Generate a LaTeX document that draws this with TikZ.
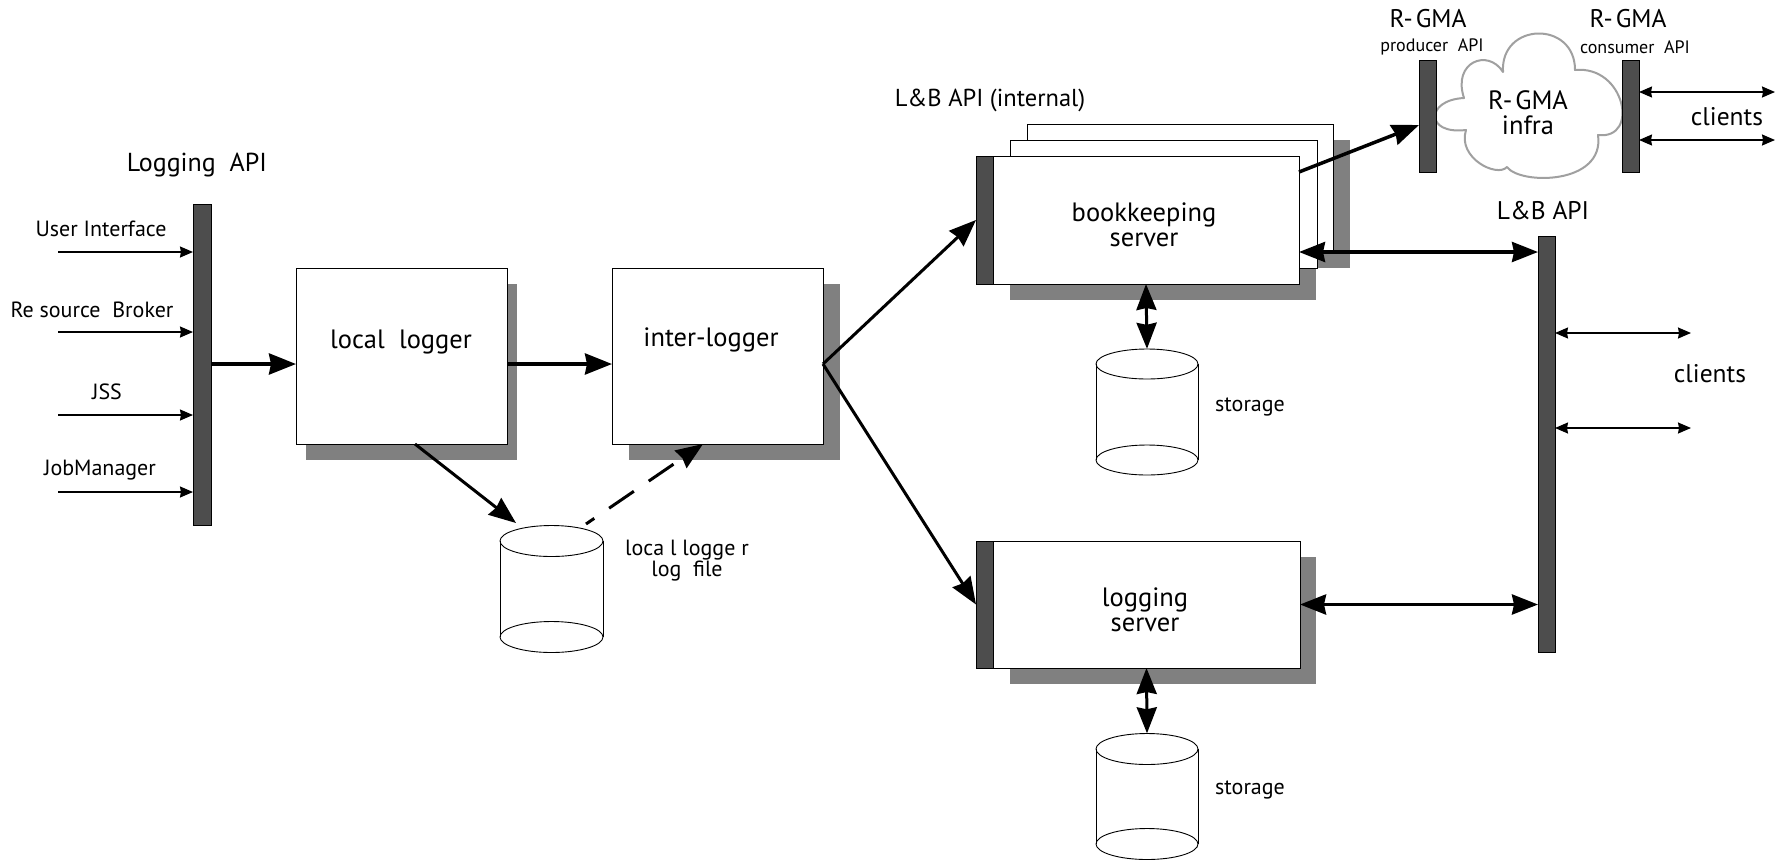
\documentclass[tikz,border=0pt]{standalone}
\usepackage{fontspec}
\setmainfont{PT Sans}
\usetikzlibrary{arrows.meta}
\definecolor{barc}{HTML}{4D4D4D}
\definecolor{shadc}{HTML}{808080}
\definecolor{cloudc}{HTML}{A0A0A0}
\tikzset{
  apibar/.style={draw=black, line width=0.8pt, fill=barc, inner sep=0pt, outer sep=0pt, anchor=north west},
  srvbox/.style={draw=black, line width=1pt, fill=white, inner sep=0pt, outer sep=0pt, anchor=north west},
  shad/.style={fill=shadc},
  cylline/.style={draw=black, line width=0.9pt},
  biglbl/.style={font=\fontsize{26.5}{25}\selectfont, align=center, inner sep=0pt},
  midlbl/.style={font=\fontsize{22}{22}\selectfont, align=center, inner sep=0pt},
  smalllbl/.style={font=\fontsize{22}{21}\selectfont, align=center, inner sep=0pt},
  tinylbl/.style={font=\fontsize{18}{18}\selectfont, align=center, inner sep=0pt},
  bigarrow/.style={line width=3.5pt, -{Stealth[inset=2pt,length=27pt,width=21pt]}},
  bigdbl/.style={line width=3.5pt, {Stealth[inset=2pt,length=26pt,width=20pt]}-{Stealth[inset=2pt,length=26pt,width=20pt]}},
  thinarrow/.style={line width=1.5pt, -{Stealth[inset=1pt,length=13pt,width=11pt]}},
  thindbl/.style={line width=1.5pt, {Stealth[inset=1pt,length=13pt,width=11pt]}-{Stealth[inset=1pt,length=13pt,width=11pt]}},
}
\newcommand{\rgma}{R-\kern3pt GMA}
\begin{document}
\begin{tikzpicture}[x=1pt,y=-1pt]
\useasboundingbox (0,0) rectangle (1779,860);
\fill[white] (0,0) rectangle (1779,860);

% ---------- Logging API ----------
\node[apibar, minimum width=18pt, minimum height=321pt] (lapi) at (193,204) {};
\node[biglbl, font=\fontsize{26}{26}\selectfont] (lapilbl) at (197,165) {Logging\ \ API};
\node[smalllbl] (uilbl) at (101,229) {User Interface};
\node[smalllbl] (rblbl) at (92,310) {Re source\ \ Broker};
\node[smalllbl] (jsslbl) at (107,392) {JSS};
\node[smalllbl] (jmlbl) at (100,470) {JobManager};
\coordinate (ui) at (58,252);
\coordinate (rb) at (58,332);
\coordinate (jss) at (58,415);
\coordinate (jm) at (58,492);
\draw[thinarrow] (ui) -- (ui -| lapi.west);
\draw[thinarrow] (rb) -- (rb -| lapi.west);
\draw[thinarrow] (jss) -- (jss -| lapi.west);
\draw[thinarrow] (jm) -- (jm -| lapi.west);

% ---------- local logger / inter-logger ----------
\fill[shad] (306,284) rectangle (517,460);
\node[srvbox, minimum width=211pt, minimum height=176pt] (ll) at (296,268) {};
\node[biglbl] (lllbl) at (401,342) {local\ \ logger};
\fill[shad] (629,284) rectangle (840,460);
\node[srvbox, minimum width=211pt, minimum height=176pt] (il) at (612,268) {};
\node[biglbl] (illbl) at (711,340) {inter-logger};

\draw[bigarrow] (lapi.east |- 0,364) -- (ll.west |- 0,364);
\draw[bigarrow] ([yshift=-8pt]ll.east) -- ([yshift=-8pt]il.west);

% local logger log file
\node[inner sep=0pt, minimum width=103pt, minimum height=127pt] (lcyl) at (551.5,589) {};
\draw[cylline] (500,541) -- (500,637);
\draw[cylline] (603,541) -- (603,637);
\draw[cylline] (551.5,541) ellipse [x radius=51.5pt, y radius=15.5pt];
\draw[cylline] (551.5,637) ellipse [x radius=51.5pt, y radius=15.5pt];
\node[smalllbl] (lcyllbl) at (687,561) {loca l logge r\\log\ \ file};
\coordinate (lcylin) at (516,523);
\coordinate (lcylout) at (586,524);
\draw[bigarrow, line width=3pt] ([xshift=13.5pt]ll.south) -- (lcylin);
\draw[bigarrow, line width=3pt, dash pattern=on 30pt off 18pt, dash phase=20pt] (lcylout) -- ([xshift=-14.5pt]il.south);

% ---------- bookkeeping server ----------
\fill[shad] (1044,140) rectangle (1350,268);
\fill[shad] (1010,172) rectangle (1316,300);
\node[srvbox, minimum width=306pt, minimum height=128pt] (bk3) at (1027,124) {};
\node[srvbox, minimum width=307pt, minimum height=128pt] (bk2) at (1010,140) {};
\node[srvbox, minimum width=306pt, minimum height=128pt] (bk) at (993,156) {};
\node[apibar, minimum width=17pt, minimum height=128pt] (bkbar) at (976,156) {};
\node[biglbl] (bklbl) at (1144,225) {bookkeeping\\server};
\node[biglbl, font=\fontsize{24.5}{24}\selectfont] (lbilbl) at (990,100) {L\&B API (internal)};

% storage 1
\node[inner sep=0pt, minimum width=102pt, minimum height=126pt] (st1) at (1147,412) {};
\draw[cylline] (1096,364) -- (1096,460);
\draw[cylline] (1198,364) -- (1198,460);
\draw[cylline] (1147,364) ellipse [x radius=51pt, y radius=15pt];
\draw[cylline] (1147,460) ellipse [x radius=51pt, y radius=15pt];
\node[midlbl, anchor=west] (st1lbl) at (1215,407) {storage};
\draw[bigdbl, line width=3pt] (bk.south) -- (st1.north);

% ---------- logging server ----------
\fill[shad] (1010,557) rectangle (1316,684);
\node[srvbox, minimum width=307pt, minimum height=127pt] (ls) at (993,541) {};
\node[apibar, minimum width=17pt, minimum height=127pt] (lsbar) at (976,541) {};
\node[biglbl] (lslbl) at (1145,610) {logging\\server};

% storage 2
\node[inner sep=0pt, minimum width=102pt, minimum height=126pt] (st2) at (1147,796.5) {};
\draw[cylline] (1096,749) -- (1096,844);
\draw[cylline] (1198,749) -- (1198,844);
\draw[cylline] (1147,749) ellipse [x radius=51pt, y radius=15.5pt];
\draw[cylline] (1147,844) ellipse [x radius=51pt, y radius=15.5pt];
\node[midlbl, anchor=west] (st2lbl) at (1215,790) {storage};
\draw[bigdbl, line width=3pt] (ls.south) -- (st2.north);

% inter-logger fan out
\coordinate (ilout) at ([yshift=-8pt]il.east);
\draw[bigarrow, line width=3pt] (ilout) -- (bkbar.west);
\draw[bigarrow, line width=3pt] (ilout) -- (lsbar.west);

% ---------- L&B API ----------
\node[apibar, minimum width=17pt, minimum height=416pt] (lbbar) at (1538,236) {};
\node[biglbl, font=\fontsize{25.5}{25}\selectfont] (lblbl) at (1543,211) {L\&B API};
\draw[bigdbl] ([yshift=-32pt]bk.east) -- ([yshift=-32pt]bk.east -| lbbar.west);
\draw[bigdbl] (ls.east) -- (ls.east -| lbbar.west);
\coordinate (cl1) at (1691,333);
\coordinate (cl2) at (1691,428);
\draw[thindbl] (cl1 -| lbbar.east) -- (cl1);
\draw[thindbl] (cl2 -| lbbar.east) -- (cl2);
\node[biglbl, font=\fontsize{25.5}{25}\selectfont] (cllbl) at (1710,374) {clients};

% ---------- R-GMA ----------
\node[inner sep=0pt, minimum width=185pt, minimum height=142pt] (cloud) at (1528,106) {};
\draw[draw=cloudc, line width=2pt, line join=round]
  (1466,130) .. controls (1425,135) and (1425,100) .. (1464,98)
             .. controls (1452,62) and (1488,48) .. (1503,72)
             .. controls (1500,22) and (1575,20) .. (1575,70)
             .. controls (1625,65) and (1640,140) .. (1598,135)
             .. controls (1605,185) and (1520,185) .. (1507,167)
             .. controls (1497,178) and (1457,158) .. cycle;
\node[biglbl] (cloudlbl) at (1528,113) {\rgma\\infra};
\node[apibar, minimum width=17pt, minimum height=112pt] (pbar) at (1419,60) {};
\node[apibar, minimum width=17pt, minimum height=112pt] (cbar) at (1622,60) {};
\node[biglbl, font=\fontsize{25.5}{25}\selectfont] (plbl) at (1428,19) {\rgma};
\node[biglbl, font=\fontsize{25.5}{25}\selectfont] (clbl) at (1628,19) {\rgma};
\node[tinylbl] (papilbl) at (1432,47) {producer\ \ API};
\node[tinylbl] (capilbl) at (1635,47) {consumer\ \ API};
\draw[bigarrow] ([yshift=48pt]bk.east) -- ([yshift=-9pt]pbar.west);
\coordinate (rc1) at (1775,92);
\coordinate (rc2) at (1775,140);
\draw[thindbl] (rc1 -| cbar.east) -- (rc1);
\draw[thindbl] (rc2 -| cbar.east) -- (rc2);
\node[biglbl, font=\fontsize{25.5}{25}\selectfont] (rcllbl) at (1727,117) {clients};
\end{tikzpicture}
\end{document}
